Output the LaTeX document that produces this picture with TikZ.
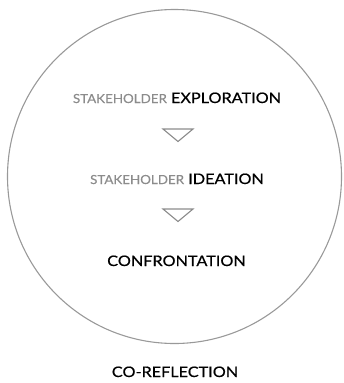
\documentclass[tikz,border=0pt]{standalone}
\usepackage{fontspec}
\setmainfont{Lato}
\newfontfamily\bigfont[FakeStretch=1.12,FakeBold=0.6]{Lato}
\newfontfamily\smallfont[FakeStretch=1.07,FakeBold=0.3]{Lato}
\definecolor{lightgr}{gray}{0.55}
\definecolor{circlegr}{gray}{0.6}
\newcommand\stkh{{\smallfont\fontsize{12.5}{14}\selectfont\color{lightgr}STAKEHOLDER}}
\begin{document}
\begin{tikzpicture}[x=1pt,y=-1pt,
  bigtext/.style={anchor=base,inner sep=0pt,font=\bigfont\fontsize{14.5}{17}\selectfont,text=black},
  tri/.style={draw=lightgr,line width=1.1pt,line join=miter},
  ring/.style={draw=circlegr,line width=1.1pt}]
\useasboundingbox (0,0) rectangle (344,383);
\draw[ring] (174.5,176.5) circle[radius=167];
\node[bigtext] (explo) at (177,103) {\stkh{} EXPLORATION};
\node[bigtext] (idea) at (177,184) {\stkh{} IDEATION};
\node[bigtext] (confr) at (176.5,266) {CONFRONTATION};
\node[bigtext] (corefl) at (175,377) {CO-REFLECTION};
\coordinate (t1) at (178,129);
\coordinate (t2) at (178,209);
\draw[tri] ([xshift=-15]t1) -- ([xshift=15]t1) -- ([yshift=-12.5]t1) -- cycle;
\draw[tri] ([xshift=-15]t2) -- ([xshift=15]t2) -- ([yshift=-12.5]t2) -- cycle;
\end{tikzpicture}
\end{document}
